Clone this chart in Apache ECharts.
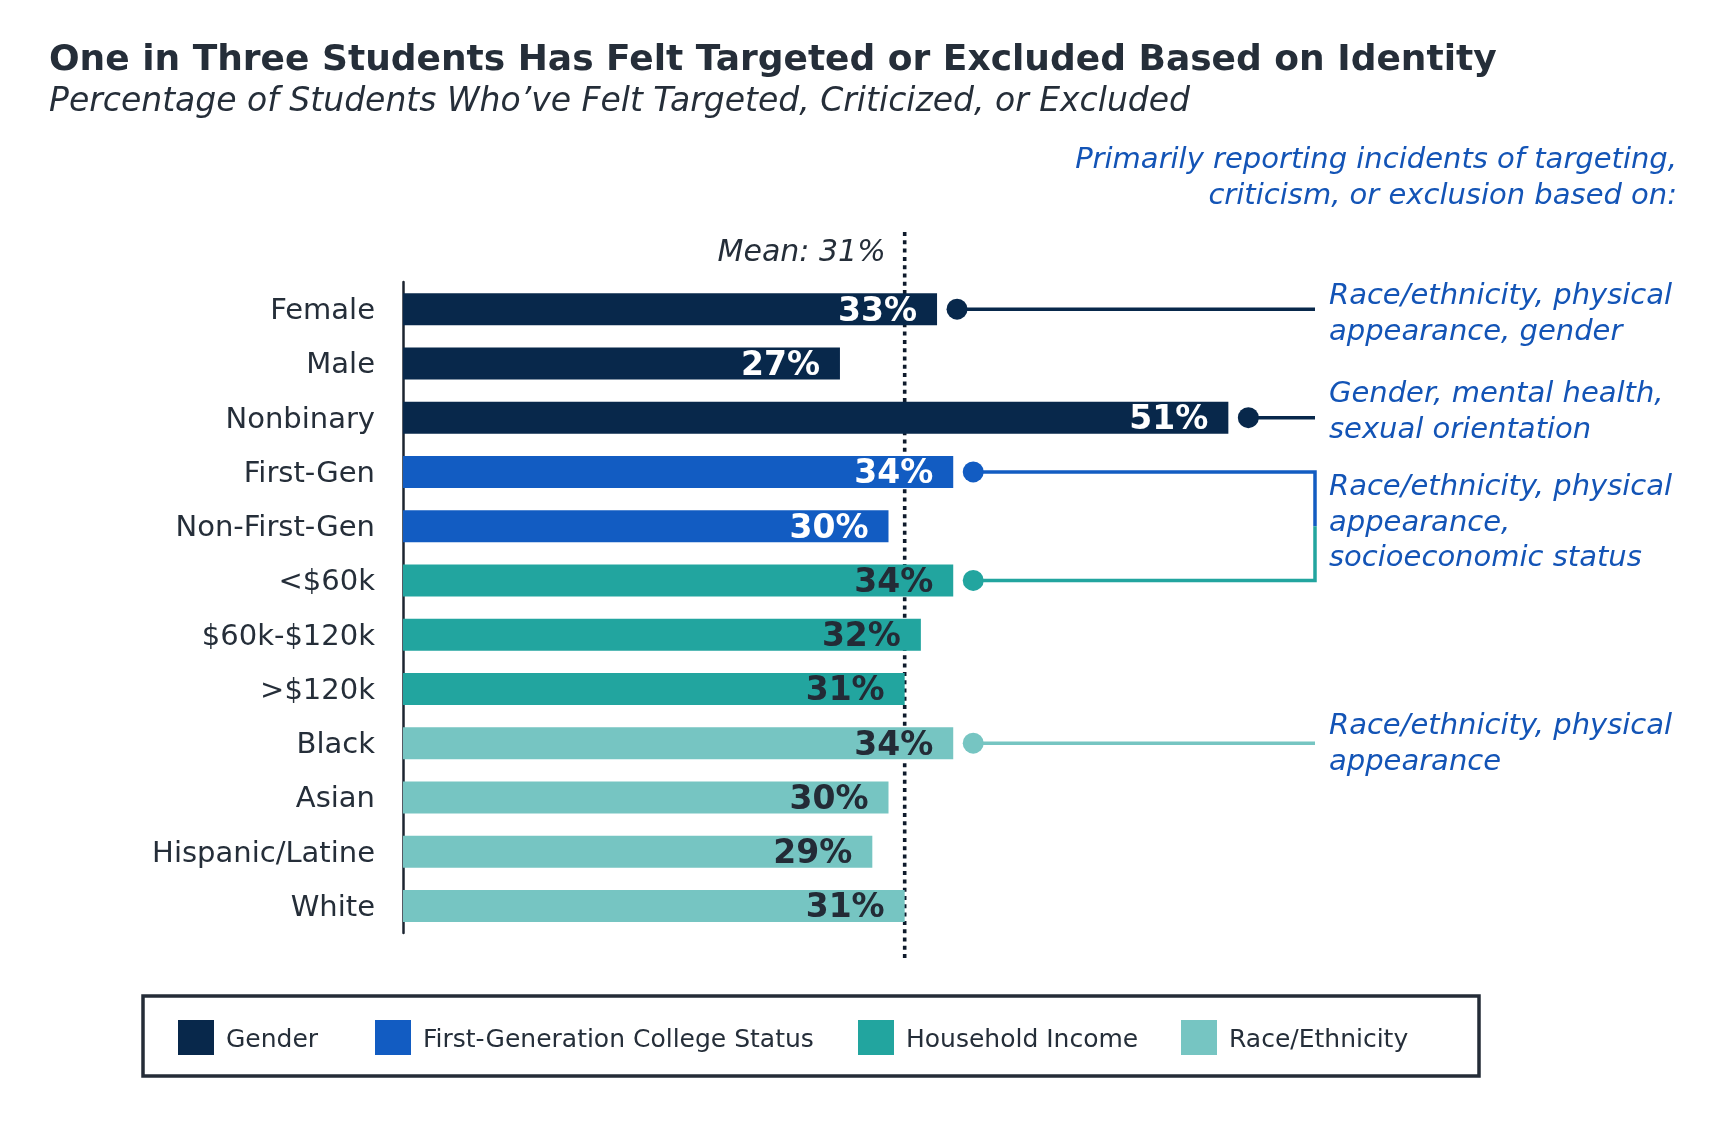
<!DOCTYPE html>
<html>
<head>
<meta charset="utf-8">
<script src="https://cdn.jsdelivr.net/npm/echarts@6/dist/echarts.min.js"></script>
<style>html,body{margin:0;padding:0;background:#fff}#c{width:1736px;height:1122px}</style>
</head>
<body>
<div id="c"></div>
<script>
// ---------- data ----------
const categories = ['Female','Male','Nonbinary','First-Gen','Non-First-Gen','<$60k','$60k-$120k','>$120k','Black','Asian','Hispanic/Latine','White'];
const values = [33, 27, 51, 34, 30, 34, 32, 31, 34, 30, 29, 31];
const groupOf = [0, 0, 0, 1, 1, 2, 2, 2, 3, 3, 3, 3];
const groupNames = ['Gender', 'First-Generation College Status', 'Household Income', 'Race/Ethnicity'];
const MEAN = 31;
const annotFromRow = ['Female', 'Nonbinary', 'First-Gen', 'Black'];
const annotToRow = ['Female', 'Nonbinary', '<$60k', 'Black'];
const annotTexts = [
  'Race/ethnicity, physical\nappearance, gender',
  'Gender, mental health,\nsexual orientation',
  'Race/ethnicity, physical\nappearance,\nsocioeconomic status',
  'Race/ethnicity, physical\nappearance'
];
const titleText = 'One in Three Students Has Felt Targeted or Excluded Based on Identity';
const subtitleText = 'Percentage of Students Who\u2019ve Felt Targeted, Criticized, or Excluded';
const headerText = 'Primarily reporting incidents of targeting,\ncriticism, or exclusion based on:';

// ---------- style / layout ----------
const FONT = 'DejaVu Sans';
const groupColors = ['#08284b', '#125cc2', '#22a59f', '#76c5c2'];
const labelColors = ['#ffffff', '#ffffff', '#232b36', '#232b36'];
const TEXT = '#252e39';
const BLUE_TEXT = '#1354b6';
const LINE_END_X = 1315;
const ANNOT_TEXT_X = 1329;
const DOT_OFFSET = 20;
const annotDy = [5.5, -5, -3, 1.5];
const legendLeft = [178, 375, 858, 1181];

const chart = echarts.init(document.getElementById('c'));

const barSeries = groupNames.map((name, g) => ({
  name: name,
  type: 'bar',
  barWidth: 32,
  barGap: '-100%',
  z: 2,
  data: values.map((v, i) => groupOf[i] === g ? v : null),
  itemStyle: { color: groupColors[g] },
  label: {
    show: true,
    position: 'insideRight',
    distance: 20,
    offset: [0, 3],
    formatter: '{c}%',
    fontFamily: FONT,
    fontSize: 33,
    fontWeight: 'bold',
    color: labelColors[g]
  }
}));

const meanSeries = {
  type: 'custom',
  coordinateSystem: 'cartesian2d',
  z: 1,
  silent: true,
  data: [[MEAN, 0]],
  renderItem: function (params, api) {
    const cs = params.coordSys;
    const x = api.coord([api.value(0), 0])[0];
    return {
      type: 'group',
      children: [
        {
          type: 'line',
          shape: { x1: x, y1: cs.y - 50, x2: x, y2: cs.y + cs.height + 26 },
          style: { stroke: '#0e1a2b', lineWidth: 3.6, lineDash: [4, 4.3] }
        },
        {
          type: 'text',
          x: x - 19,
          y: cs.y - 28.5,
          style: {
            text: 'Mean: ' + api.value(0) + '%',
            align: 'right',
            verticalAlign: 'middle',
            font: 'italic 30px "' + FONT + '"',
            fill: TEXT
          }
        }
      ]
    };
  }
};

const annotSeries = {
  type: 'custom',
  coordinateSystem: 'cartesian2d',
  z: 3,
  silent: true,
  data: annotFromRow.map((f, k) => [categories.indexOf(f), categories.indexOf(annotToRow[k]), k]),
  renderItem: function (params, api) {
    const fi = api.value(0), ti = api.value(1), k = api.value(2);
    const p1 = api.coord([values[fi], fi]);
    const p2 = api.coord([values[ti], ti]);
    const c1 = groupColors[groupOf[fi]], c2 = groupColors[groupOf[ti]];
    const children = [];
    const mid = (p1[1] + p2[1]) / 2;
    if (fi === ti) {
      children.push({ type: 'line', shape: { x1: p1[0] + DOT_OFFSET, y1: p1[1], x2: LINE_END_X, y2: p1[1] },
        style: { stroke: c1, lineWidth: 3.5 } });
    } else {
      children.push({ type: 'polyline', shape: { points: [[p1[0] + DOT_OFFSET, p1[1]], [LINE_END_X, p1[1]], [LINE_END_X, mid]] },
        style: { stroke: c1, lineWidth: 3.5, fill: null } });
      children.push({ type: 'polyline', shape: { points: [[p2[0] + DOT_OFFSET, p2[1]], [LINE_END_X, p2[1]], [LINE_END_X, mid]] },
        style: { stroke: c2, lineWidth: 3.5, fill: null } });
      children.push({ type: 'circle', shape: { cx: p2[0] + DOT_OFFSET, cy: p2[1], r: 10.5 }, style: { fill: c2 } });
    }
    children.push({ type: 'circle', shape: { cx: p1[0] + DOT_OFFSET, cy: p1[1], r: 10.5 }, style: { fill: c1 } });
    children.push({
      type: 'text',
      x: ANNOT_TEXT_X,
      y: mid + annotDy[k],
      style: {
        text: annotTexts[k],
        align: 'left',
        verticalAlign: 'middle',
        font: 'italic 29px "' + FONT + '"',
        lineHeight: 35.5,
        fill: BLUE_TEXT
      }
    });
    return { type: 'group', children: children };
  }
};

const option = {
  animation: false,
  backgroundColor: '#ffffff',
  title: {
    text: titleText,
    subtext: subtitleText,
    left: 49,
    top: 41,
    padding: 0,
    itemGap: 3,
    textStyle: { fontFamily: FONT, fontSize: 36, fontWeight: 'bold', color: TEXT, lineHeight: 40 },
    subtextStyle: { fontFamily: FONT, fontSize: 33, fontStyle: 'italic', color: TEXT, lineHeight: 36 }
  },
  legend: groupNames.map((n, i) => ({
    data: [n],
    left: legendLeft[i],
    top: 1020,
    padding: 0,
    icon: 'rect',
    itemWidth: 36,
    itemHeight: 35,
    selectedMode: false,
    formatter: function (name) { return '{a|' + name + '}'; },
    textStyle: {
      fontFamily: FONT, fontSize: 25, color: TEXT, padding: [0, 0, 0, 7],
      rich: { a: { fontFamily: FONT, fontSize: 25, color: TEXT, padding: [6, 0, 0, 0] } }
    }
  })),
  grid: { left: 403, top: 282, width: 971, height: 651, containLabel: false },
  xAxis: { type: 'value', min: 0, max: 60, show: false },
  yAxis: {
    type: 'category',
    data: categories,
    inverse: true,
    axisLine: { show: true, lineStyle: { color: '#1c2531', width: 2.5 } },
    axisTick: { show: false },
    axisLabel: {
      margin: 28,
      formatter: function (v) { return '{a|' + v + '}'; },
      rich: { a: { fontFamily: FONT, fontSize: 29, color: TEXT, padding: [5, 0, 0, 0] } }
    }
  },
  graphic: [
    {
      type: 'text',
      x: 1677,
      y: 178,
      style: {
        text: headerText,
        align: 'right',
        verticalAlign: 'middle',
        font: 'italic 29px "' + FONT + '"',
        lineHeight: 36,
        fill: BLUE_TEXT
      }
    },
    {
      type: 'rect',
      shape: { x: 143, y: 996, width: 1336, height: 80 },
      style: { fill: 'none', stroke: '#242c37', lineWidth: 3.5 },
      z: 0
    }
  ],
  series: barSeries.concat([meanSeries, annotSeries])
};

chart.setOption(option);
</script>
</body>
</html>
